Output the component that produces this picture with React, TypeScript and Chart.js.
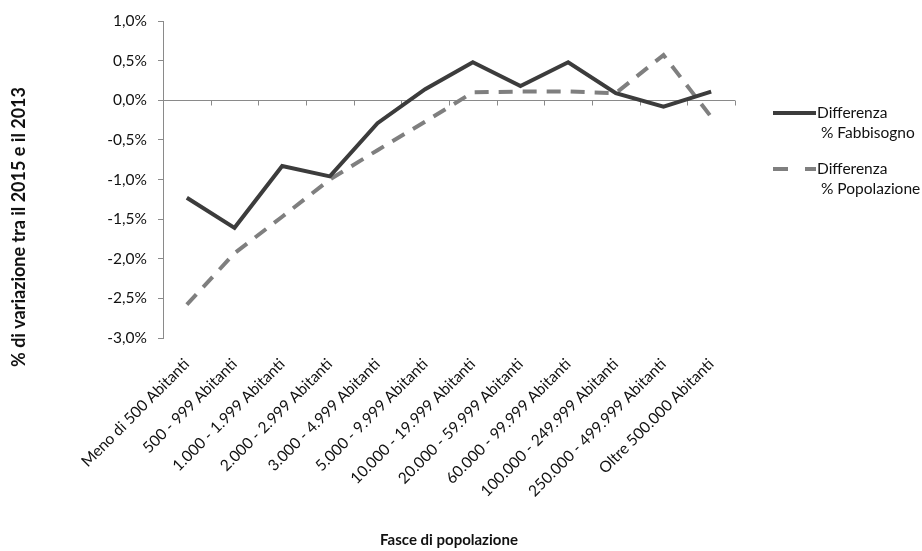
import React, { useEffect, useRef } from "react";
import { Chart, registerables } from "chart.js";

Chart.register(...registerables);

const categories = [
  "Meno di 500 Abitanti",
  "500 - 999 Abitanti",
  "1.000 - 1.999 Abitanti",
  "2.000 - 2.999 Abitanti",
  "3.000 - 4.999 Abitanti",
  "5.000 - 9.999 Abitanti",
  "10.000 - 19.999 Abitanti",
  "20.000 - 59.999 Abitanti",
  "60.000 - 99.999 Abitanti",
  "100.000 - 249.999 Abitanti",
  "250.000 - 499.999 Abitanti",
  "Oltre 500.000 Abitanti",
];

const fabbisogno = [-1.23, -1.61, -0.83, -0.96, -0.29, 0.14, 0.48, 0.18, 0.48, 0.09, -0.08, 0.11];
const popolazione = [-2.58, -1.93, -1.47, -1.0, -0.63, -0.27, 0.1, 0.11, 0.11, 0.09, 0.57, -0.21];

const seriesNames = [
  ["Differenza", " % Fabbisogno"],
  ["Differenza", " % Popolazione"],
];
const yTitle = "% di variazione tra il 2015 e il 2013";
const xTitle = "Fasce di popolazione";

const FONT = "Lato, 'Open Sans', sans-serif";
const TEXT = "#111111";
const AXIS = "#8a8a8a";
const SOLID = "#3c3c3c";
const DASH = "#7f7f7f";
const FS = 15.5;

const decorPlugin = {
  id: "decor",
  beforeDatasetsDraw(chart: any) {
    const { ctx, chartArea, scales } = chart;
    const y0 = scales.y.getPixelForValue(0);
    ctx.save();
    ctx.strokeStyle = AXIS;
    ctx.lineWidth = 1;
    ctx.beginPath();
    ctx.moveTo(chartArea.left, Math.round(y0) + 0.5);
    ctx.lineTo(chartArea.right, Math.round(y0) + 0.5);
    const n = categories.length;
    const w = (chartArea.right - chartArea.left) / n;
    for (let i = 1; i <= n; i++) {
      const x = Math.round(chartArea.left + i * w) + 0.5;
      ctx.moveTo(x, Math.round(y0) + 0.5);
      ctx.lineTo(x, Math.round(y0) + 5.5);
    }
    ctx.stroke();
    ctx.restore();
  },
  afterDraw(chart: any) {
    const { ctx, chartArea } = chart;
    ctx.save();
    ctx.fillStyle = TEXT;
    ctx.textAlign = "center";
    ctx.textBaseline = "middle";
    // y title
    ctx.font = `bold 18px ${FONT}`;
    ctx.save();
    ctx.translate(19, 227);
    ctx.rotate(-Math.PI / 2);
    ctx.fillText(yTitle, 0, 0);
    ctx.restore();
    // x title
    ctx.font = `bold 15px ${FONT}`;
    ctx.fillText(xTitle, (chartArea.left + chartArea.right) / 2, 540);

    // legend
    ctx.font = `${FS}px ${FONT}`;
    ctx.textAlign = "left";
    const lx = chartArea.right + 38;
    const entries = [
      { y: 113, color: SOLID, dash: [] as number[] },
      { y: 169, color: DASH, dash: [15, 17] },
    ];
    entries.forEach((e, i) => {
      ctx.save();
      ctx.strokeStyle = e.color;
      ctx.lineWidth = 4;
      ctx.setLineDash(e.dash);
      ctx.beginPath();
      ctx.moveTo(lx, e.y);
      ctx.lineTo(lx + 43, e.y);
      ctx.stroke();
      ctx.restore();
      ctx.fillStyle = TEXT;
      ctx.fillText(seriesNames[i][0], lx + 44, e.y);
      ctx.fillText(seriesNames[i][1], lx + 44, e.y + 20);
    });
    ctx.restore();
  },
};

export default function App() {
  const ref = useRef<HTMLCanvasElement | null>(null);
  useEffect(() => {
    if (!ref.current) return;
    const chart = new Chart(ref.current, {
      type: "line",
      data: {
        labels: categories,
        datasets: [
          {
            label: seriesNames[0].join(""),
            data: fabbisogno,
            borderColor: SOLID,
            borderWidth: 4,
            pointRadius: 0,
            tension: 0,
            fill: false,
          },
          {
            label: seriesNames[1].join(""),
            data: popolazione,
            borderColor: DASH,
            borderWidth: 4,
            borderDash: [14, 10],
            pointRadius: 0,
            tension: 0,
            fill: false,
          },
        ],
      },
      options: {
        responsive: true,
        maintainAspectRatio: false,
        animation: false,
        layout: { padding: { top: 21, right: 187, bottom: 0, left: 0 } },
        plugins: {
          legend: { display: false },
          tooltip: { enabled: false },
        },
        scales: {
          x: {
            type: "category",
            offset: true,
            grid: { display: false, drawTicks: false },
            border: { display: false },
            afterFit: (s: any) => {
              s.height = 213;
            },
            ticks: {
              autoSkip: false,
              minRotation: 45,
              maxRotation: 45,
              padding: 17,
              color: TEXT,
              font: { family: FONT, size: FS },
            },
          },
          y: {
            min: -3,
            max: 1,
            afterFit: (s: any) => {
              s.width = 163;
            },
            grid: {
              drawOnChartArea: false,
              drawTicks: true,
              tickLength: 5,
              color: AXIS,
            },
            border: { display: true, color: AXIS },
            ticks: {
              stepSize: 0.5,
              padding: 11,
              color: TEXT,
              font: { family: FONT, size: FS },
              callback: (v: any) => Number(v).toFixed(1).replace(".", ",") + "%",
            },
          },
        },
      },
      plugins: [decorPlugin],
    });
    if ((document as any).fonts) {
      (document as any).fonts.load(`${FS}px Lato`).then(() => chart.update());
      (document as any).fonts.load(`bold 18px Lato`).then(() => chart.update());
    }
    return () => chart.destroy();
  }, []);
  return (
    <div style={{ position: "fixed", left: 0, top: 0, width: 922, height: 551, background: "#fff" }}>
      <canvas ref={ref} />
    </div>
  );
}
